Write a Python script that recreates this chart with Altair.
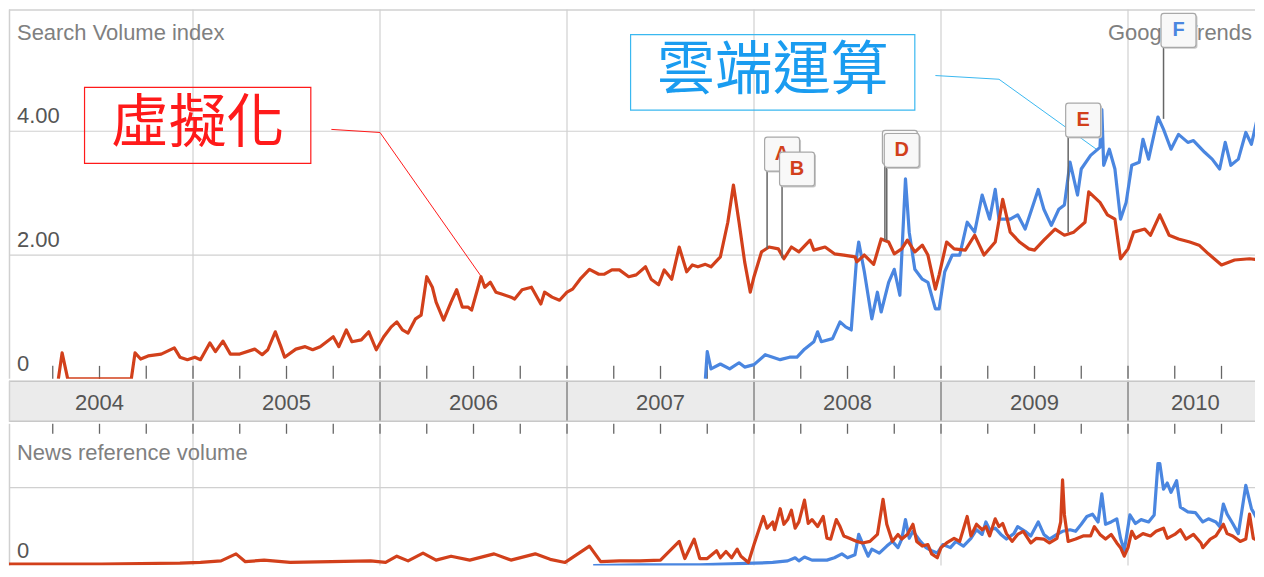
import altair as alt
import pandas as pd

# ---------------- data ----------------
# Search volume index, 虛擬化 (virtualization)
virt_t = [2004.28, 2004.30, 2004.33, 2004.67, 2004.69, 2004.72, 2004.76, 2004.83, 2004.90, 2004.93,
          2004.97, 2005.01, 2005.04, 2005.09, 2005.12, 2005.16, 2005.20, 2005.25, 2005.33, 2005.37,
          2005.40, 2005.44, 2005.47, 2005.49, 2005.55, 2005.60, 2005.64, 2005.68, 2005.75, 2005.78,
          2005.82, 2005.85, 2005.90, 2005.94, 2005.98, 2006.02, 2006.06, 2006.09, 2006.12, 2006.15,
          2006.19, 2006.22, 2006.25, 2006.28, 2006.30, 2006.34, 2006.38, 2006.41, 2006.44, 2006.47,
          2006.49, 2006.54, 2006.56, 2006.59, 2006.62, 2006.65, 2006.70, 2006.72, 2006.76, 2006.81,
          2006.86, 2006.88, 2006.92, 2006.96, 2007.00, 2007.03, 2007.07, 2007.12, 2007.17, 2007.20,
          2007.24, 2007.28, 2007.33, 2007.37, 2007.42, 2007.45, 2007.49, 2007.52, 2007.56, 2007.60,
          2007.64, 2007.67, 2007.70, 2007.74, 2007.77, 2007.82, 2007.86, 2007.89, 2007.92, 2007.95,
          2007.98, 2008.00, 2008.04, 2008.08, 2008.13, 2008.16, 2008.20, 2008.24, 2008.30, 2008.32,
          2008.38, 2008.43, 2008.48, 2008.54, 2008.55, 2008.59, 2008.64, 2008.68, 2008.72, 2008.75,
          2008.79, 2008.82, 2008.86, 2008.90, 2008.93, 2008.97, 2008.99, 2009.03, 2009.07, 2009.13,
          2009.18, 2009.23, 2009.29, 2009.33, 2009.37, 2009.42, 2009.47, 2009.50, 2009.55, 2009.61,
          2009.66, 2009.71, 2009.77, 2009.79, 2009.85, 2009.89, 2009.93, 2009.96, 2010.00, 2010.03,
          2010.09, 2010.12, 2010.17, 2010.22, 2010.27, 2010.33, 2010.38, 2010.43, 2010.50, 2010.57,
          2010.65, 2010.72]
virt_v = [0, 0.42, 0, 0, 0.42, 0.32, 0.37, 0.40, 0.50, 0.35,
          0.31, 0.35, 0.31, 0.58, 0.44, 0.61, 0.40, 0.40, 0.48, 0.39,
          0.47, 0.76, 0.52, 0.35, 0.48, 0.52, 0.47, 0.52, 0.68, 0.52,
          0.79, 0.60, 0.63, 0.76, 0.47, 0.68, 0.84, 0.92, 0.79, 0.74,
          0.97, 1.03, 1.65, 1.48, 1.24, 0.95, 1.24, 1.44, 1.16, 1.16,
          1.11, 1.65, 1.48, 1.56, 1.40, 1.37, 1.32, 1.29, 1.44, 1.48,
          1.21, 1.40, 1.32, 1.27, 1.40, 1.45, 1.61, 1.77, 1.69, 1.69,
          1.76, 1.76, 1.65, 1.68, 1.81, 1.61, 1.52, 1.76, 1.61, 2.13,
          1.73, 1.84, 1.81, 1.85, 1.81, 1.97, 2.53, 3.13, 2.53, 1.89,
          1.40, 1.65, 2.05, 2.13, 2.10, 1.94, 2.13, 2.05, 2.24, 2.08,
          2.13, 2.02, 2.00, 1.97, 1.89, 2.00, 1.85, 2.26, 2.21, 2.02,
          2.10, 2.24, 2.05, 2.16, 2.00, 1.45, 1.68, 2.21, 2.10, 2.08,
          2.32, 2.00, 2.21, 2.90, 2.37, 2.21, 2.10, 2.08, 2.24, 2.42,
          2.32, 2.37, 2.53, 3.02, 2.85, 2.65, 2.58, 1.94, 2.10, 2.37,
          2.42, 2.32, 2.65, 2.32, 2.26, 2.21, 2.16, 2.02, 1.84, 1.92,
          1.94, 1.92]

# Search volume index, 雲端運算 (cloud computing)
cloud_t = [2007.74, 2007.75, 2007.77, 2007.82, 2007.87, 2007.92, 2007.95, 2008.00, 2008.06, 2008.14,
           2008.19, 2008.23, 2008.27, 2008.32, 2008.34, 2008.36, 2008.42, 2008.46, 2008.49, 2008.52,
           2008.55, 2008.56, 2008.59, 2008.63, 2008.66, 2008.68, 2008.72, 2008.75, 2008.78, 2008.81,
           2008.83, 2008.86, 2008.90, 2008.93, 2008.97, 2008.99, 2009.02, 2009.06, 2009.10, 2009.14,
           2009.18, 2009.22, 2009.26, 2009.29, 2009.31, 2009.37, 2009.41, 2009.45, 2009.52, 2009.55,
           2009.59, 2009.63, 2009.66, 2009.69, 2009.73, 2009.75, 2009.80, 2009.85, 2009.86, 2009.87,
           2009.90, 2009.93, 2009.96, 2009.99, 2010.02, 2010.06, 2010.08, 2010.11, 2010.16, 2010.19,
           2010.23, 2010.27, 2010.32, 2010.35, 2010.41, 2010.45, 2010.49, 2010.52, 2010.55, 2010.59,
           2010.63, 2010.66, 2010.69, 2010.72]
cloud_v = [0.00, 0.44, 0.16, 0.24, 0.16, 0.26, 0.19, 0.23, 0.39, 0.31,
           0.35, 0.35, 0.48, 0.60, 0.76, 0.60, 0.65, 0.92, 0.84, 0.79,
           2.00, 2.21, 1.73, 0.97, 1.40, 1.08, 1.56, 1.77, 1.35, 3.23,
           2.37, 1.77, 1.61, 1.56, 1.13, 1.13, 1.73, 2.00, 2.00, 2.53,
           2.37, 2.97, 2.58, 3.06, 2.58, 2.58, 2.65, 2.42, 3.06, 2.74,
           2.48, 2.74, 2.81, 3.50, 2.97, 3.39, 3.61, 3.74, 4.35, 3.45,
           3.71, 3.39, 2.58, 2.85, 3.45, 3.50, 3.87, 3.55, 4.23, 4.03,
           3.71, 3.95, 3.82, 3.85, 3.66, 3.55, 3.39, 3.82, 3.45, 3.55,
           3.98, 3.79, 4.19, 4.79]

# News reference volume, 虛擬化
news_virt_t = [2004.00, 2004.51, 2004.93, 2005.04, 2005.15, 2005.23, 2005.28, 2005.38, 2005.52, 2005.74,
               2005.95, 2006.03, 2006.09, 2006.15, 2006.23, 2006.30, 2006.38, 2006.48, 2006.61, 2006.70,
               2006.83, 2006.91, 2006.99, 2007.12, 2007.18, 2007.28, 2007.39, 2007.50, 2007.60, 2007.63,
               2007.68, 2007.71, 2007.75, 2007.80, 2007.82, 2007.85, 2007.88, 2007.91, 2007.93, 2007.97,
               2008.00, 2008.05, 2008.07, 2008.10, 2008.11, 2008.14, 2008.16, 2008.18, 2008.20, 2008.22,
               2008.24, 2008.27, 2008.29, 2008.31, 2008.34, 2008.37, 2008.39, 2008.41, 2008.44, 2008.46,
               2008.48, 2008.51, 2008.55, 2008.58, 2008.62, 2008.66, 2008.69, 2008.71, 2008.74, 2008.77,
               2008.79, 2008.82, 2008.85, 2008.87, 2008.90, 2008.93, 2008.95, 2008.98, 2009.00, 2009.03,
               2009.07, 2009.10, 2009.14, 2009.16, 2009.19, 2009.22, 2009.24, 2009.26, 2009.29, 2009.31,
               2009.33, 2009.35, 2009.38, 2009.41, 2009.44, 2009.48, 2009.51, 2009.55, 2009.58, 2009.62,
               2009.64, 2009.65, 2009.66, 2009.68, 2009.72, 2009.76, 2009.80, 2009.82, 2009.85, 2009.88,
               2009.91, 2009.94, 2009.96, 2009.98, 2010.00, 2010.02, 2010.04, 2010.08, 2010.12, 2010.15,
               2010.19, 2010.21, 2010.25, 2010.28, 2010.31, 2010.35, 2010.39, 2010.40, 2010.44, 2010.47,
               2010.51, 2010.53, 2010.56, 2010.60, 2010.63, 2010.65, 2010.67, 2010.70, 2010.72]
news_virt_v = [0.02, 0.02, 0.03, 0.04, 0.06, 0.15, 0.05, 0.07, 0.04, 0.05,
               0.06, 0.04, 0.12, 0.06, 0.16, 0.07, 0.12, 0.07, 0.15, 0.07,
               0.15, 0.08, 0.04, 0.25, 0.05, 0.06, 0.06, 0.07, 0.31, 0.09,
               0.34, 0.09, 0.09, 0.19, 0.10, 0.18, 0.10, 0.21, 0.12, 0.04,
               0.27, 0.63, 0.48, 0.56, 0.46, 0.73, 0.53, 0.59, 0.71, 0.48,
               0.56, 0.84, 0.54, 0.59, 0.50, 0.63, 0.35, 0.34, 0.59, 0.50,
               0.38, 0.35, 0.31, 0.29, 0.31, 0.40, 0.85, 0.53, 0.31, 0.40,
               0.34, 0.40, 0.53, 0.31, 0.25, 0.27, 0.15, 0.10, 0.23, 0.29,
               0.35, 0.31, 0.63, 0.38, 0.53, 0.46, 0.50, 0.38, 0.60, 0.50,
               0.54, 0.41, 0.31, 0.40, 0.44, 0.29, 0.35, 0.34, 0.29, 0.35,
               0.56, 1.10, 0.65, 0.31, 0.34, 0.38, 0.38, 0.50, 0.40, 0.34,
               0.40, 0.29, 0.23, 0.12, 0.23, 0.44, 0.35, 0.41, 0.38, 0.44,
               0.48, 0.35, 0.40, 0.46, 0.34, 0.40, 0.29, 0.23, 0.34, 0.38,
               0.53, 0.41, 0.38, 0.31, 0.34, 0.66, 0.35, 0.31, 0.31]

# News reference volume, 雲端運算
news_cloud_t = [2007.14, 2007.39, 2007.71, 2008.00, 2008.10, 2008.18, 2008.22, 2008.24, 2008.27, 2008.31,
                2008.39, 2008.43, 2008.47, 2008.50, 2008.54, 2008.56, 2008.59, 2008.61, 2008.63, 2008.67,
                2008.71, 2008.74, 2008.77, 2008.79, 2008.81, 2008.83, 2008.85, 2008.89, 2008.92, 2008.95,
                2008.98, 2009.01, 2009.05, 2009.08, 2009.12, 2009.16, 2009.19, 2009.22, 2009.24, 2009.26,
                2009.29, 2009.32, 2009.35, 2009.39, 2009.41, 2009.45, 2009.48, 2009.52, 2009.55, 2009.58,
                2009.62, 2009.65, 2009.69, 2009.72, 2009.75, 2009.78, 2009.81, 2009.84, 2009.86, 2009.88,
                2009.91, 2009.94, 2009.96, 2009.98, 2010.01, 2010.04, 2010.07, 2010.11, 2010.14, 2010.16,
                2010.17, 2010.19, 2010.21, 2010.23, 2010.26, 2010.28, 2010.32, 2010.36, 2010.40, 2010.43,
                2010.47, 2010.49, 2010.51, 2010.53, 2010.56, 2010.59, 2010.63, 2010.66, 2010.69, 2010.72]
news_cloud_v = [0.00, 0.01, 0.01, 0.03, 0.04, 0.06, 0.10, 0.06, 0.11, 0.07,
                0.07, 0.10, 0.15, 0.10, 0.14, 0.40, 0.23, 0.12, 0.21, 0.16,
                0.25, 0.31, 0.23, 0.34, 0.59, 0.35, 0.44, 0.31, 0.23, 0.19,
                0.16, 0.27, 0.23, 0.31, 0.25, 0.35, 0.46, 0.40, 0.56, 0.46,
                0.48, 0.40, 0.34, 0.41, 0.50, 0.44, 0.38, 0.56, 0.40, 0.34,
                0.40, 0.44, 0.46, 0.44, 0.53, 0.63, 0.66, 0.56, 0.92, 0.53,
                0.56, 0.60, 0.35, 0.19, 0.65, 0.54, 0.59, 0.56, 0.65, 1.31,
                1.31, 0.98, 1.06, 0.94, 1.09, 0.75, 0.69, 0.68, 0.56, 0.60,
                0.56, 0.50, 0.79, 0.66, 0.54, 0.41, 1.03, 0.73, 0.60, 0.75]

# axis / tick values and labels
years = [2004, 2005, 2006, 2007, 2008, 2009, 2010]
year_labels = ["2004", "2005", "2006", "2007", "2008", "2009", "2010"]
LAST_DATE = 2010.72          # the visible window of the reference ends here
top_grid = [2.0, 4.0]
top_label_vals = [0.0, 2.0, 4.0]
top_label_txt = ["0", "2.00", "4.00"]
news_grid = [1.0]

# event flags (C sits hidden behind D in the reference)
flag_letters = ["A", "B", "C", "D", "E", "F"]
flag_t = [2008.07, 2008.15, 2008.70, 2008.71, 2009.68, 2010.19]
flag_anchor = [2.10, 1.95, 2.24, 2.24, 2.37, 4.20]
flag_box = [3.63, 3.39, 3.74, 3.69, 4.18, 5.63]
flag_series = ["virt", "virt", "virt", "virt", "virt", "cloud"]
flag_label_shown = [True, True, False, True, True, True]

# callout annotations
ann_text = ["虛擬化", "雲端運算"]
ann_x1 = [2004.42, 2007.34]
ann_x2 = [2005.63, 2008.86]
ann_y1 = [3.48, 4.34]
ann_y2 = [4.71, 5.56]
ann_lead_t = [[2005.74, 2006.00, 2006.54], [2008.97, 2009.31, 2009.84]]
ann_lead_v = [[4.03, 3.98, 1.66], [4.90, 4.84, 3.69]]

# ---------------- style ----------------
RED = "#d2401b"
BLUE = "#4a86e0"
ANN_RED = "#ff1a1a"
ANN_BLUE_TXT = "#1a9cf0"
ANN_BLUE_BOX = "#3ab8f0"
GRID = "#d0d0d0"
TICK = "#666666"
FONT = "Liberation Sans"
CJK = "Noto Sans CJK TC"

W = 1248
H_TOP = 370
H_BAND = 41
H_NEWS = 142
PX_PER_YEAR = 187.3
X0 = 2004 + 3.0 / PX_PER_YEAR
X1 = X0 + W / PX_PER_YEAR
NEWS_PX = 78.0

# quarter ticks and year-label centres that fall inside the window (nothing may spill past the view)
quarters = [q for q in [y + k / 4 for y in years for k in range(4)][1:] if q < X1 - 0.01]
label_pos = [y + 0.5 for y in years[:-1]] + [(years[-1] + LAST_DATE) / 2]

xs = alt.Scale(domain=[X0, X1], nice=False, zero=False)
ys_top = alt.Scale(domain=[0, H_TOP / 62.0], nice=False, zero=False)
ys_news = alt.Scale(domain=[0, H_NEWS / NEWS_PX], nice=False, zero=False)

X = lambda f: alt.X(f, type="quantitative", scale=xs, axis=None)
YT = lambda f: alt.Y(f, type="quantitative", scale=ys_top, axis=None)
YN = lambda f: alt.Y(f, type="quantitative", scale=ys_news, axis=None)

one = pd.DataFrame({"k": [0]})
BOX = ("M-0.84,-0.97 L0.84,-0.97 Q1,-0.97 1,-0.81 L1,0.81 Q1,0.97 0.84,0.97 "
       "L-0.84,0.97 Q-1,0.97 -1,0.81 L-1,-0.81 Q-1,-0.97 -0.84,-0.97 Z")

# ---------------- top panel: search volume index ----------------
top_layers = []
top_layers.append(alt.Chart(pd.DataFrame({"t": years[1:]})).mark_rule(color=GRID, strokeWidth=1.2)
                  .encode(x=X("t")))
top_layers.append(alt.Chart(pd.DataFrame({"v": top_grid})).mark_rule(color=GRID, strokeWidth=1.2)
                  .encode(y=YT("v")))
top_layers.append(alt.Chart(pd.DataFrame({"t": quarters})).mark_rule(color=TICK, strokeWidth=1.3)
                  .encode(x=X("t"), y=alt.value(H_TOP - 13), y2=alt.value(H_TOP)))
top_layers.append(alt.Chart(one).mark_rule(color=GRID, strokeWidth=1.5)
                  .encode(x=alt.value(0.5), y=alt.value(0), y2=alt.value(H_TOP)))
top_layers.append(alt.Chart(one).mark_rule(color=GRID, strokeWidth=1.5)
                  .encode(x=alt.value(0), x2=alt.value(W), y=alt.value(0.5)))
top_layers.append(alt.Chart(pd.DataFrame({"v": top_label_vals, "l": top_label_txt}))
                  .mark_text(align="left", baseline="middle", dy=-15, fontSize=22, font=FONT, color="#555555")
                  .encode(x=alt.value(8), y=YT("v"), text="l:N"))
top_layers.append(alt.Chart(one).mark_text(text="Search Volume index", align="left", baseline="middle",
                                           fontSize=22, font=FONT, color="#808080")
                  .encode(x=alt.value(8), y=alt.value(24)))
top_layers.append(alt.Chart(one).mark_text(text="Google Trends", align="right", baseline="middle",
                                           fontSize=22, font=FONT, color="#808080")
                  .encode(x=alt.value(W - 3), y=alt.value(24)))

# callouts
ann_cols = [(ANN_RED, ANN_RED, ANN_RED), (ANN_BLUE_BOX, ANN_BLUE_TXT, ANN_BLUE_BOX)]
for i in range(2):
    box_c, txt_c, lead_c = ann_cols[i]
    d = pd.DataFrame({"x1": [ann_x1[i]], "x2": [ann_x2[i]], "y1": [ann_y1[i]], "y2": [ann_y2[i]],
                      "xm": [(ann_x1[i] + ann_x2[i]) / 2], "ym": [(ann_y1[i] + ann_y2[i]) / 2],
                      "txt": [ann_text[i]]})
    top_layers.append(alt.Chart(d).mark_rect(fillOpacity=0, stroke=box_c, strokeWidth=1.2)
                      .encode(x=X("x1"), x2="x2", y=YT("y1"), y2="y2"))
    top_layers.append(alt.Chart(d).mark_text(fontSize=58, font=CJK, color=txt_c, baseline="middle",
                                             align="center")
                      .encode(x=X("xm"), y=YT("ym"), text="txt:N"))
    ld = pd.DataFrame({"t": ann_lead_t[i], "v": ann_lead_v[i], "o": [0, 1, 2]})
    top_layers.append(alt.Chart(ld).mark_line(color=lead_c, strokeWidth=1)
                      .encode(x=X("t"), y=YT("v"), order="o:Q"))

top_layers.append(alt.Chart(pd.DataFrame({"t": cloud_t, "v": cloud_v}))
                  .mark_line(color=BLUE, strokeWidth=3.2, clip=True, strokeJoin="round")
                  .encode(x=X("t"), y=YT("v")))
top_layers.append(alt.Chart(pd.DataFrame({"t": virt_t, "v": virt_v}))
                  .mark_line(color=RED, strokeWidth=3.2, clip=True, strokeJoin="round")
                  .encode(x=X("t"), y=YT("v")))

# flags
top_layers.append(alt.Chart(pd.DataFrame({"t": flag_t, "a": flag_anchor, "b": flag_box}))
                  .mark_rule(color="#666666", strokeWidth=1.5)
                  .encode(x=X("t"), y=YT("a"), y2="b"))
for i in range(len(flag_letters)):
    d = pd.DataFrame({"t": [flag_t[i]], "v": [flag_box[i]], "l": [flag_letters[i]]})
    col = RED if flag_series[i] == "virt" else BLUE
    top_layers.append(alt.Chart(d).mark_point(shape=BOX, size=1225, filled=True, fill="#c9c9c9",
                                              opacity=1, strokeOpacity=0, xOffset=16.5, yOffset=1.5)
                      .encode(x=X("t"), y=YT("v")))
    top_layers.append(alt.Chart(d).mark_point(shape=BOX, size=1225, filled=True, fill="#f8f8f8",
                                              stroke="#a8a8a8", strokeWidth=1.2, opacity=1, xOffset=15)
                      .encode(x=X("t"), y=YT("v")))
    if flag_label_shown[i]:
        top_layers.append(alt.Chart(d).mark_text(fontSize=20, fontWeight="bold", font=FONT, color=col,
                                                 xOffset=15, baseline="middle", align="center")
                          .encode(x=X("t"), y=YT("v"), text="l:N"))

top = alt.layer(*top_layers).properties(width=W, height=H_TOP)

# ---------------- year band ----------------
band_layers = [
    alt.Chart(pd.DataFrame({"t": years[1:]})).mark_rule(color="#777777", strokeWidth=1.3)
    .encode(x=X("t")),
    alt.Chart(pd.DataFrame({"t": label_pos, "l": year_labels}))
    .mark_text(fontSize=22, font=FONT, color="#555555", baseline="middle", align="center", dy=2)
    .encode(x=X("t"), y=alt.value(H_BAND / 2), text="l:N"),
    alt.Chart(one).mark_rule(color="#c8c8c8", strokeWidth=1.5)
    .encode(x=alt.value(0), x2=alt.value(W), y=alt.value(0.5)),
    alt.Chart(one).mark_rule(color="#c8c8c8", strokeWidth=1.5)
    .encode(x=alt.value(0), x2=alt.value(W), y=alt.value(H_BAND - 0.5)),
    alt.Chart(one).mark_rule(color=GRID, strokeWidth=1.5)
    .encode(x=alt.value(0.5), y=alt.value(0), y2=alt.value(H_BAND)),
]
band = alt.layer(*band_layers).properties(width=W, height=H_BAND,
                                           view=alt.ViewBackground(fill="#ebebeb", strokeWidth=0))

# ---------------- bottom panel: news reference volume ----------------
news_layers = [
    alt.Chart(pd.DataFrame({"t": years[1:]})).mark_rule(color=GRID, strokeWidth=1.2).encode(x=X("t")),
    alt.Chart(pd.DataFrame({"v": news_grid})).mark_rule(color=GRID, strokeWidth=1.2).encode(y=YN("v")),
    alt.Chart(pd.DataFrame({"t": quarters})).mark_rule(color=TICK, strokeWidth=1.3)
    .encode(x=X("t"), y=alt.value(0), y2=alt.value(10)),
    alt.Chart(one).mark_rule(color=GRID, strokeWidth=1.5)
    .encode(x=alt.value(0.5), y=alt.value(0), y2=alt.value(H_NEWS)),
    alt.Chart(one).mark_text(text="News reference volume", align="left", baseline="middle",
                             fontSize=22, font=FONT, color="#808080")
    .encode(x=alt.value(8), y=alt.value(29)),
    alt.Chart(pd.DataFrame({"v": [0.0], "l": ["0"]}))
    .mark_text(align="left", baseline="middle", dy=-15, fontSize=22, font=FONT, color="#555555")
    .encode(x=alt.value(8), y=YN("v"), text="l:N"),
    alt.Chart(pd.DataFrame({"t": news_cloud_t, "v": news_cloud_v}))
    .mark_line(color=BLUE, strokeWidth=3.2, clip=True, strokeJoin="round")
    .encode(x=X("t"), y=YN("v")),
    alt.Chart(pd.DataFrame({"t": news_virt_t, "v": news_virt_v}))
    .mark_line(color=RED, strokeWidth=3.2, clip=True, strokeJoin="round")
    .encode(x=X("t"), y=YN("v")),
]
news = alt.layer(*news_layers).properties(width=W, height=H_NEWS)

chart = (alt.vconcat(top, band, news, spacing=0)
         .properties(padding=0)
         .configure_view(strokeWidth=0))

chart.save("out.html", embed_options={"renderer": "svg", "actions": False})
